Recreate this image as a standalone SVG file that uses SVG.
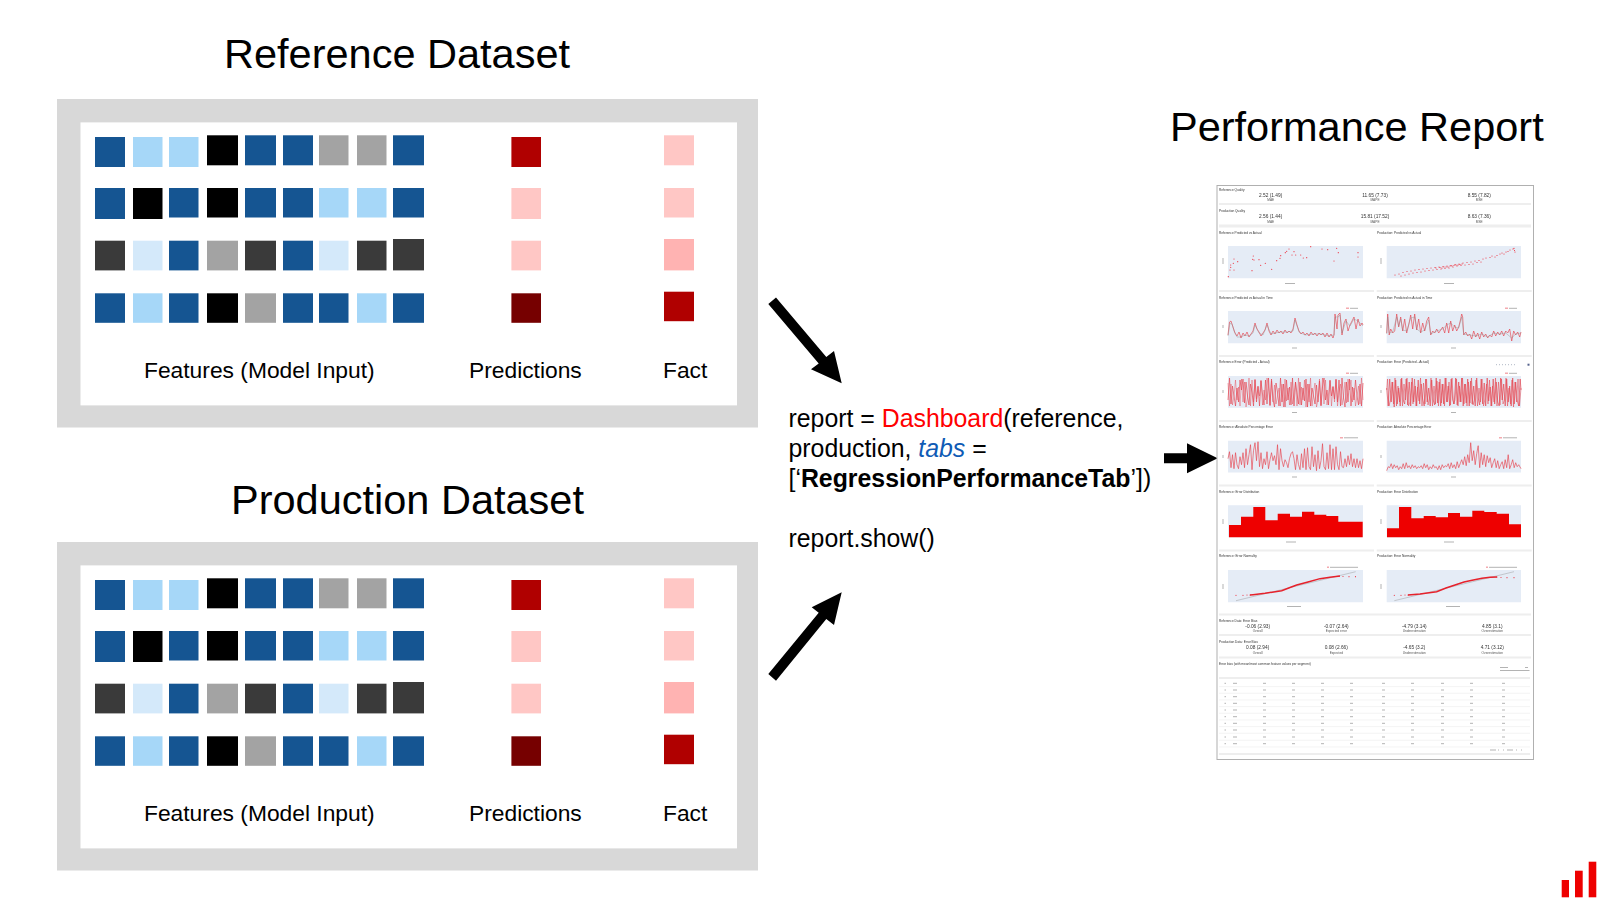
<svg xmlns="http://www.w3.org/2000/svg" xmlns:xlink="http://www.w3.org/1999/xlink" width="1600" height="900" viewBox="0 0 1600 900">
<style>
text{font-family:"Liberation Sans",Arial,sans-serif;fill:#000}
.title{font-size:41.5px}
.lab{font-size:22.8px}
.code{font-size:24.85px}
.frame{fill:#D8D8D8}.inner{fill:#fff}
.b{fill:#155592}.l{fill:#A6D7F8}.k{fill:#000}.g{fill:#A3A3A3}.d{fill:#3A3A3A}.v{fill:#D4E9FA}
.r{fill:#B00000}.p{fill:#FFC7C5}.q{fill:#FFB3B2}.m{fill:#760000}
.arrow{fill:#000}
.t{font-size:3.2px;fill:#333}
.v1{font-size:4.8px;fill:#333;text-anchor:middle}
.s1{font-size:3.2px;fill:#555;text-anchor:middle}
.plot{fill:#E5ECF6}
.bar{fill:#EEEEEE}
.ln{fill:none;stroke:#E6414C;stroke-width:.65;stroke-linejoin:round}
.lnb{fill:none;stroke:#EE6A74;stroke-width:.5;stroke-linejoin:round}
.ln2{fill:none;stroke:#8A8A8A;stroke-width:.4}
.dots{fill:none;stroke:#EE3340;stroke-width:1.2;stroke-linecap:round}
.hist{fill:#EE0000}
.tick{fill:none;stroke:#AAAAAA;stroke-width:.9}
</style>
<defs>
<filter id="soft" x="-2%" y="-2%" width="104%" height="104%"><feGaussianBlur stdDeviation="0.3"/></filter>
<g id="cells">
<rect class="b" x="95" y="137" width="30" height="30"/><rect class="l" x="133" y="137" width="29.5" height="30"/><rect class="l" x="169" y="137" width="29.5" height="30"/><rect class="k" x="207" y="135.3" width="31" height="30"/><rect class="b" x="245" y="135.3" width="31" height="30"/><rect class="b" x="283" y="135.3" width="30" height="30"/><rect class="g" x="319" y="135.3" width="29.5" height="30"/><rect class="g" x="357" y="135.3" width="29.5" height="30"/><rect class="b" x="393" y="135.3" width="31" height="30"/>
<rect class="b" x="95" y="188" width="30" height="31"/><rect class="k" x="133" y="188" width="29.5" height="31"/><rect class="b" x="169" y="188" width="29.5" height="29.5"/><rect class="k" x="207" y="188" width="31" height="29.5"/><rect class="b" x="245" y="188" width="31" height="29.5"/><rect class="b" x="283" y="188" width="30" height="29.5"/><rect class="l" x="319" y="188" width="29.5" height="29.5"/><rect class="l" x="357" y="188" width="29.5" height="29.5"/><rect class="b" x="393" y="188" width="31" height="29.5"/>
<rect class="d" x="95" y="240.7" width="30" height="29.7"/><rect class="v" x="133" y="240.7" width="29.5" height="29.7"/><rect class="b" x="169" y="240.7" width="29.5" height="29.7"/><rect class="g" x="207" y="240.7" width="31" height="29.7"/><rect class="d" x="245" y="240.7" width="31" height="29.7"/><rect class="b" x="283" y="240.7" width="30" height="29.7"/><rect class="v" x="319" y="240.7" width="29.5" height="29.7"/><rect class="d" x="357" y="240.7" width="29.5" height="29.7"/><rect class="d" x="393" y="239" width="31" height="31.4"/>
<rect class="b" x="95" y="293.3" width="30" height="29.5"/><rect class="l" x="133" y="293.3" width="29.5" height="29.5"/><rect class="b" x="169" y="293.3" width="29.5" height="29.5"/><rect class="k" x="207" y="293.3" width="31" height="29.5"/><rect class="g" x="245" y="293.3" width="31" height="29.5"/><rect class="b" x="283" y="293.3" width="30" height="29.5"/><rect class="b" x="319" y="293.3" width="29.5" height="29.5"/><rect class="l" x="357" y="293.3" width="29.5" height="29.5"/><rect class="b" x="393" y="293.3" width="31" height="29.5"/>
<rect class="r" x="511.4" y="137" width="29.6" height="30"/><rect class="p" x="511.4" y="188" width="29.6" height="31"/><rect class="p" x="511.4" y="240.7" width="29.6" height="29.7"/><rect class="m" x="511.4" y="293.3" width="29.6" height="29.5"/>
<rect class="p" x="664" y="135.3" width="30" height="30"/><rect class="p" x="664" y="188" width="30" height="29.5"/><rect class="q" x="664" y="239" width="30" height="31.4"/><rect class="r" x="664" y="291.7" width="30" height="29.5"/>
</g>
<path id="row" class="tick" d="M1224.5 0h1.5M1233 0h4M1263 0h3M1292 0h3M1321 0h3M1350 0h3M1382 0h3M1411 0h3M1441 0h3M1470 0h3M1502 0h3"/>
<polyline id="err1" class="ln" points="0,24 1.500,2 3,28 4.500,10 6,20 7.500,30 9,12 10.500,26 12,4 13.500,14 15,3 16.500,27 18,6 19.500,20 21,29 22.500,8 24,16 25.500,30 27,4 28.500,26 30,10 31.500,30 33,5 34.500,18 36,29 37.500,4 39,28 40.500,2 42,29 43.500,3 45,24 46.500,31 48,7 49.500,16 51,30 52.500,2 54,26 55.500,8 57,31 58.500,4 60,24 61.500,11 63,29 64.500,2 66,30 67.500,6 69,18 70.500,28 72,6 73.500,29 75,12 76.500,25 78,3 79.500,31 81,8 82.500,30 84,12 85.500,20 87,28 88.500,9 90,26 91.500,5 93,30 94.500,11 96,2 97.500,24 99,14 100.500,29 102,4 103.500,20 105,11 106.500,23 108,3 109.500,26 111,4 112.500,30 114,2 115.500,22 117,31 118.500,6 120,26 121.500,3 123,30 124.500,11 126,24 127.500,4 129,20 130.500,29 132,8 133.500,30 135,7"/>
<polyline id="err2" class="ln" points="0,12 1.500,30 3,3 4.500,26 6,6 7.500,31 9,4 10.500,28 12,12 13.500,30 15,2 16.500,24 18,28 19.500,3 21,29 22.500,6 24,30 25.500,2 27,26 28.500,10 30,30 31.500,4 33,28 34.500,8 36,23 37.500,30 39,3 40.500,26 42,12 43.500,30 45,4 46.500,24 48,29 49.500,2 51,27 52.500,6 54,30 55.500,8 57,28 58.500,2 60,26 61.500,10 63,30 64.500,3 66,24 67.500,28 69,2 70.500,29 72,6 73.500,26 75,2 76.500,30 78,8 79.500,27 81,3 82.500,30 84,5 85.500,28 87,10 88.500,30 90,2 91.500,22 93,29 94.500,3 96,28 97.500,7 99,30 100.500,2 102,25 103.500,11 105,30 106.500,3 108,28 109.500,6 111,26 112.500,30 114,2 115.500,24 117,8 118.500,30 120,3 121.500,26 123,10 124.500,30 126,2 127.500,28 129,6 130.500,24 132,30 133.500,3 134.300,14"/>
<polyline id="ape1" class="ln" points="0,18 1.500,11 3,27 4.500,14 6,28 7.500,12 9,24 10.500,28 12,16 13.500,24 15,12 16.500,27 18,8 19.500,24 21,14 22.500,4 24,29 25.500,10 27,2 28.500,20 30,1 31.500,26 33,12 34.500,28 36,18 37.500,24 39,11 40.500,28 42,19 43.500,12 45,20 46.500,15 48,24 49.500,4 51,29 52.500,8 54,20 55.500,26 57,19 58.500,22 60,27 61.500,18 63,13 64.500,11 66,18 67.500,29 69,14 70.500,24 72,29 73.500,13 75,27 76.500,8 78,29 79.500,7 81,26 82.500,29 84,6 85.500,26 87,14 88.500,30 90,10 91.500,28 93,20 94.500,3 96,26 97.500,29 99,12 100.500,28 102,4 103.500,29 105,8 106.500,29 108,6 109.500,24 111,29 112.500,11 114,26 115.500,27 117,18 118.500,26 120,15 121.500,24 123,13 124.500,26 126,18 127.500,27 129,18 130.500,27 132,20 133.500,28 135,18"/>
</defs>
<rect width="1600" height="900" fill="#fff"/>

<g id="reference-dataset">
<text class="title" x="224" y="67.500">Reference Dataset</text>
<rect class="frame" x="57" y="99" width="701" height="328.5"/>
<rect class="inner" x="80.5" y="122.4" width="656.5" height="283"/>
<use xlink:href="#cells" href="#cells"/>
<text class="lab" x="144" y="378">Features (Model Input)</text>
<text class="lab" x="469" y="378">Predictions</text>
<text class="lab" x="663" y="378">Fact</text>
</g>

<g id="production-dataset">
<text class="title" x="231" y="513.500">Production Dataset</text>
<rect class="frame" x="57" y="542" width="701" height="328.5"/>
<rect class="inner" x="80.5" y="565.4" width="656.5" height="283"/>
<use xlink:href="#cells" href="#cells" y="443"/>
<text class="lab" x="144" y="821">Features (Model Input)</text>
<text class="lab" x="469" y="821">Predictions</text>
<text class="lab" x="663" y="821">Fact</text>
</g>

<g id="code">
<text class="code" x="788.500" y="427.300">report = <tspan fill="#FF0000">Dashboard</tspan>(reference,</text>
<text class="code" x="788.500" y="457.300">production, <tspan fill="#0F5BB5" font-style="italic">tabs</tspan> =</text>
<text class="code" x="788.500" y="487.300">[‘<tspan font-weight="bold">RegressionPerformanceTab</tspan>’])</text>
<text class="code" x="788.500" y="547.300">report.show()</text>
</g>

<g id="connectors">
<polygon class="arrow" points="768.3,304 776,297.4 826.3,357 834,351 841.7,383.3 811,369.3 818.7,363.4"/>
<polygon class="arrow" points="768.3,674 776,680.7 826.3,619 834,625 841.7,592.3 811.7,607.3 818.7,612.8"/>
<polygon class="arrow" points="1164,453.3 1187,453.3 1187,443.3 1217.7,458.3 1187,473.3 1187,463.3 1164,463.3"/>
</g>

<g id="performance-report">
<text class="title" x="1170" y="141">Performance Report</text>
<rect x="1217" y="185.5" width="316.5" height="574" fill="#fff" stroke="#B0B0B0" stroke-width="1"/>
<g filter="url(#soft)">
<path class="bar" d="M1219 203h312v2h-312zM1219 224.500h312v3h-312zM1219 290h155v2h-155zM1376.700 290h155v2h-155zM1219 355h155v2h-155zM1376.700 355h155v2h-155zM1219 420h155v2h-155zM1376.700 420h155v2h-155zM1219 484.500h155v2h-155zM1376.700 484.500h155v2h-155zM1219 549.500h155v2h-155zM1376.700 549.500h155v2h-155zM1219 613.500h312v2h-312zM1219 634h312v2h-312zM1219 656.500h312v2h-312zM1219 677h311v2h-311zM1219 753h311v2h-311z"/>

<text class="t" x="1219" y="191">Reference Quality</text>
<text class="v1" x="1270.700" y="196.800">2.52 (1.49)</text><text class="v1" x="1375" y="196.800">11.65 (7.73)</text><text class="v1" x="1479.300" y="196.800">8.55 (7.82)</text>
<text class="s1" x="1270.700" y="201.300">MAE</text><text class="s1" x="1375" y="201.300">MAPE</text><text class="s1" x="1479.300" y="201.300">MSE</text>
<text class="t" x="1219" y="212">Production Quality</text>
<text class="v1" x="1270.700" y="218.300">2.56 (1.44)</text><text class="v1" x="1375" y="218.300">15.81 (17.52)</text><text class="v1" x="1479.300" y="218.300">8.63 (7.36)</text>
<text class="s1" x="1270.700" y="222.800">MAE</text><text class="s1" x="1375" y="222.800">MAPE</text><text class="s1" x="1479.300" y="222.800">MSE</text>

<text class="t" x="1219" y="233.500">Reference Predicted vs Actual</text><text class="t" x="1377" y="233.500">Production: Predicted vs Actual</text>
<text class="t" x="1219" y="298.500">Reference Predicted vs Actual in Time</text><text class="t" x="1377" y="298.500">Production: Predicted vs Actual in Time</text>
<text class="t" x="1219" y="362.500">Reference Error (Predicted - Actual)</text><text class="t" x="1377" y="362.500">Production: Error (Predicted - Actual)</text>
<text class="t" x="1219" y="427.500">Reference: Absolute Percentage Error</text><text class="t" x="1377" y="427.500">Production: Absolute Percentage Error</text>
<text class="t" x="1219" y="492.500">Reference: Error Distribution</text><text class="t" x="1377" y="492.500">Production: Error Distribution</text>
<text class="t" x="1219" y="557">Reference: Error Normality</text><text class="t" x="1377" y="557">Production: Error Normality</text>

<path class="plot" d="M1228 246h135v32.300h-135zM1386.700 246h134.300v32.300h-134.300zM1228 311h135v32.300h-135zM1386.700 311h134.300v32.300h-134.300zM1228 376h135v31.700h-135zM1386.700 376h134.300v31.700h-134.300zM1228 440.700h135v31.700h-135zM1386.700 440.700h134.300v31.700h-134.300zM1228 505.300h135v32h-135zM1386.700 505.300h134.300v32h-134.300zM1228 570h135v32.300h-135zM1386.700 570h134.300v32.300h-134.300z"/>

<path class="tick" stroke-width=".6" d="M1285 283.500h10M1444 283.500h10M1292 348h5M1451 348h5M1292 412.500h5M1451 412.500h5M1292 477h5M1451 477h5M1286 542h10M1444 542h10M1287 606.500h14M1446 606.500h14M1223 258v6M1381 258v6M1223 325v3M1381 325v3M1223 390v3M1381 390v3M1223 455v3M1381 455v3M1223 519v5M1381 519v5M1223 584v5M1381 584v5"/>

<path class="dots" d="M1228.300 276.700h0M1230 270h0M1230.700 267.300h0M1230.700 265h0M1233.300 263.300h0M1234 259h0M1234 270h0M1237.700 261.700h0M1252 270.700h0M1252.700 259.300h0M1253.300 256h0M1254 260h0M1259 259.700h0M1260.700 265.300h0M1265.300 263.300h0M1271.700 269.300h0M1276.700 260.700h0M1280 258.300h0M1280.700 255.700h0M1285.300 252.700h0M1289 249h0M1286.700 251.300h0M1294 251.700h0M1292 255h0M1295.700 255h0M1300.700 255h0M1303.300 258h0M1306.700 257.700h0M1310.700 246.700h0M1322 249h0M1327.700 249.700h0M1336.700 248.300h0M1338.300 252.700h0M1334 261h0M1358 252.700h0M1358 257h0"/>
<path class="dots" stroke-width="1.300" d="M1395 275h0M1399 274h0M1401 276h0M1403 272.500h0M1405 275h0M1407 271.500h0M1409 274h0M1411 271h0M1413 273h0M1415 270h0M1417 272.500h0M1419 269.500h0M1421 272h0M1423 269h0M1425 271h0M1427 268.500h0M1429 270.500h0M1431 268h0M1433 270h0M1435 267.500h0M1437 269.500h0M1439 267h0M1441 269h0M1443 266.500h0M1445 268.500h0M1447 266h0M1449 268h0M1451 265.500h0M1453 267h0M1455 264.500h0M1457 266h0M1459 264h0M1461 265.500h0M1463 263h0M1465 265h0M1467 262.500h0M1469 264.500h0M1471 262h0M1473 264h0M1475 261h0M1477 262.500h0M1479 260.500h0M1481 262h0M1483 259h0M1486 258h0M1490 257.500h0M1492 256h0M1495 257h0M1497 255.500h0M1500 254h0M1502 253h0M1504 254h0M1506 252h0M1508 251.500h0M1510 250h0M1513 249h0M1514 248.300h0M1515 252h0M1514.500 250.500h0M1436 268h0M1440 267.500h0M1442 268h0M1444 267h0M1446 267h0M1448 267h0M1450 266h0M1452 266h0M1454 265.500h0M1456 265h0M1458 265h0M1460 264.500h0M1462 264h0"/>

<g transform="translate(1228 311)">
<polyline class="ln" points="0,24 1.500,11 3,10 5,16 7,22 9,25 11,21 13,27 15,22 17,25 19,21 21,26 23,23 25,20 27,12 29,18 31,21 33,25 35,22 37,19 39,12 41,20 43,24 45,20 47,23 49,19 51,22 53,20 55,23 57,19 59,22 61,20 63,22 65,18 67,7 69,14 71,20 73,23 75,21 77,24 79,22 81,25 83,21 85,24 87,22 89,25 91,22 93,24 95,22 97,26 99,22 101,26 103,23 105,27 106,24 107,3 109,18 110,4 112,2 114,24 116,12 118,8 120,20 122,14 124,10 126,6 128,18 130,8 132,15 134,12 135,14"/>
<polyline class="ln2" points="0,25 2,12 4,13 6,20 9,26 13,26 17,24 21,25 25,22 27,14 31,22 35,24 39,14 43,23 47,22 53,21 59,21 65,20 67,9 71,21 77,24 85,23 93,23 101,25 106,24 107,6 110,6 112,4 114,22 118,10 122,15 126,8 130,10 135,15"/>
</g>
<g transform="translate(1386.700 311)">
<polyline class="ln" points="0,22 1,3 2.500,24 4,18 6,22 8,20 10,3 12,16 14,6 16,20 18,8 20,22 22,14 24,4 26,18 28,3 30,19 32,8 34,22 36,12 38,20 40,10 42,6 44,24 46,20 48,22 50,18 52,22 54,19 56,16 58,22 60,12 62,22 64,10 66,20 68,14 70,20 72,16 74,8 75,3 76,6 77,24 79,21 81,25 83,23 85,28 87,20 89,26 91,22 93,28 95,21 97,26 99,23 101,27 103,24 105,26 107,20 109,25 111,21 113,24 115,20 117,25 119,20 121,22 123,18 125,30 127,20 129,24 131,21 133,26 134.300,21"/>
<polyline class="ln2" points="0,23 1,6 2.500,22 6,21 10,6 12,15 14,8 16,19 20,20 24,7 28,6 30,18 34,21 38,19 42,9 44,23 50,20 56,18 60,14 64,12 68,16 72,17 75,6 77,23 83,24 89,25 95,23 101,26 107,22 113,23 119,22 125,27 129,23 134.300,22"/>
</g>

<g transform="translate(1228 376)"><use xlink:href="#err1" href="#err1"/><use xlink:href="#err1" href="#err1" transform="translate(135 0) scale(-1 1)" opacity=".65"/></g>
<g transform="translate(1386.700 376)"><use xlink:href="#err2" href="#err2"/><use xlink:href="#err2" href="#err2" transform="translate(134.300 0) scale(-1 1)" opacity=".8"/></g>

<g transform="translate(1228 440.700)"><use xlink:href="#ape1" href="#ape1"/></g>
<g transform="translate(1386.700 440.700)">
<polyline class="ln" points="0,30 1.500,26 3,27 4.500,23 6,28 7.500,24 9,27 10.500,25 12,29 13.500,26 15,28 16.500,23 18,28 19.500,22 21,27 22.500,25 24,28 25.500,24 27,27 28.500,25 30,28 31.500,26 33,27 34.500,25 36,28 37.500,23 39,27 40.500,24 42,29 43.500,26 45,28 46.500,24 48,27 49.500,26 51,29 52.500,25 54,29 55.500,24 57,27 58.500,25 60,26 61.500,23 63,28 64.500,22 66,27 67.500,24 69,28 70.500,21 72,27 73.500,23 75,19 76.500,24 78,16 79.500,25 81,14 82.500,22 84,2 85.500,20 87,10 88.500,24 90,13 91.500,5 93,27 94.500,12 96,24 97.500,14 99,26 100.500,15 102,22 103.500,17 105,27 106.500,22 108,18 109.500,27 111,20 112.500,28 114,24 115.500,21 117,28 118.500,19 120,27 121.500,14 123,28 124.500,24 126,19 127.500,27 129,22 130.500,26 132,24 134.300,28"/>
</g>

<path class="hist" d="M1229 525H1241V516.700H1253.300V507H1265.300V520.300H1277.700V513.700H1290V516.700H1302V511.700H1314.300V514.700H1326.300V516H1338.300V521.700H1362.700V537.300H1229Z"/>
<path class="hist" d="M1387 528.300H1399V507H1411.300V518.300H1423.700V516H1435.700V517.300H1448V513H1460V516.700H1472.300V510.700H1484.300V512H1496.700V513.700H1509V524.300H1521V537.300H1387Z"/>

<polyline class="ln2" stroke-width=".8" points="1236,600.700 1355.700,571.700"/>
<polyline class="ln2" stroke-width=".8" points="1394.300,600.700 1514,571.700"/>
<path class="dots" stroke-width=".9" d="M1236 595.300h0M1243 595.300h0M1247 595h0M1250 595h0M1339 576.500h0M1343 576.500h0M1349 576.700h0M1355.500 576.700h0"/>
<path class="dots" stroke-width=".9" d="M1394.300 595.300h0M1401 595.300h0M1405 595h0M1408 595h0M1497 577h0M1501 577.500h0M1507 577.700h0M1514 577.700h0"/>
<polyline fill="none" stroke="#E6202C" stroke-width="1.400" points="1250,595 1253,594.700 1265,593.300 1281.700,590.700 1290,587.500 1296.700,585 1308,582 1320,578.700 1330,577.300 1340,576"/>
<polyline fill="none" stroke="#E6202C" stroke-width="1.400" points="1408,595 1420,594 1436.700,591.700 1446,588 1455,585 1464,582 1473.300,580 1482,578.300 1490,577.300 1497,577"/>

<path fill="#F4AAAF" d="M1346 307.500h3v1.500h-3zM1505 307.500h3v1.500h-3zM1346 372.500h3v1.500h-3zM1505 372.500h3v1.500h-3zM1340 437h3v1.500h-3zM1499 437h3v1.500h-3zM1327 566.500h2v1.500h-2zM1486 566.500h2v1.500h-2z"/>
<path class="tick" stroke-width=".6" d="M1350 308.300h8M1509 308.300h8M1350 373.300h8M1509 373.300h8M1344 437.800h14M1503 437.800h14M1330 567.300h28M1489 567.300h28"/>
<path stroke="#A8B0C0" stroke-width=".9" fill="none" d="M1496 364.700h1M1499 364.700h1M1502 364.700h1M1505 364.700h1M1508 364.700h1M1511 364.700h1M1514 364.700h1"/>
<rect x="1527.500" y="363.700" width="2" height="2" fill="#55628C"/>

<text class="t" x="1219" y="621.500">Reference Data: Error Bias</text>
<text class="v1" x="1257.700" y="627.700">-0.06 (2.93)</text><text class="v1" x="1336.300" y="627.700">-0.07 (2.64)</text><text class="v1" x="1414.300" y="627.700">-4.79 (3.14)</text><text class="v1" x="1492.300" y="627.700">4.85 (3.1)</text>
<text class="s1" x="1257.700" y="632.200">Overall</text><text class="s1" x="1336.300" y="632.200">Expected error</text><text class="s1" x="1414.300" y="632.200">Underestimation</text><text class="s1" x="1492.300" y="632.200">Overestimation</text>
<text class="t" x="1219" y="643">Production Data: Error Bias</text>
<text class="v1" x="1257.700" y="649">0.08 (2.94)</text><text class="v1" x="1336.300" y="649">0.08 (2.66)</text><text class="v1" x="1414.300" y="649">-4.65 (3.2)</text><text class="v1" x="1492.300" y="649">4.71 (3.12)</text>
<text class="s1" x="1257.700" y="653.800">Overall</text><text class="s1" x="1336.300" y="653.800">Expected</text><text class="s1" x="1414.300" y="653.800">Underestimation</text><text class="s1" x="1492.300" y="653.800">Overestimation</text>
<text class="t" x="1219" y="664.500">Error bias (with mean/most common feature values per segment)</text>
<path class="tick" stroke-width=".6" d="M1500 670.500h29.500M1500 667.500h8M1525 667.500h3"/>
<use xlink:href="#row" href="#row" y="683.300"/><use xlink:href="#row" href="#row" y="690"/><use xlink:href="#row" href="#row" y="696.700"/><use xlink:href="#row" href="#row" y="703.300"/><use xlink:href="#row" href="#row" y="710"/><use xlink:href="#row" href="#row" y="716.700"/><use xlink:href="#row" href="#row" y="723.300"/><use xlink:href="#row" href="#row" y="730"/><use xlink:href="#row" href="#row" y="737"/><use xlink:href="#row" href="#row" y="743.700"/>
<path stroke="#EFEFEF" stroke-width=".7" fill="none" d="M1219 686.600h311M1219 693.300h311M1219 700h311M1219 706.600h311M1219 713.300h311M1219 720h311M1219 726.600h311M1219 733.300h311M1219 740.300h311M1219 747h311"/>
<path class="tick" stroke-width=".7" d="M1490 750h6M1498 750h1M1503 750h1M1507 750h6M1516 750h1M1521 750h1"/>
</g>
</g>

<g id="logo" fill="#EE0000">
<rect x="1561.700" y="880" width="7.300" height="17.300"/>
<rect x="1575" y="870.700" width="7.700" height="26.600"/>
<rect x="1588.700" y="861.700" width="7.600" height="35.600"/>
</g>
</svg>
